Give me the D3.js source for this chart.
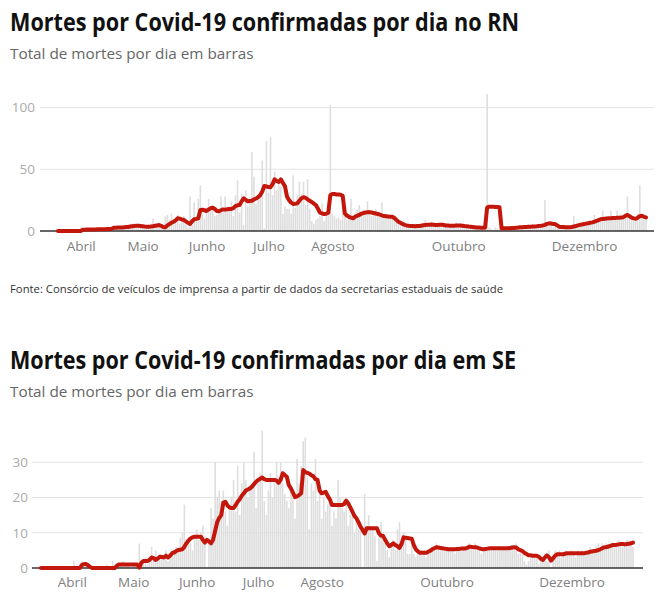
<!DOCTYPE html>
<html><head><meta charset="utf-8">
<script src="https://cdn.jsdelivr.net/npm/d3@7"></script>
<style>
body{margin:0;background:#fff;}
svg{display:block;font-family:"Open Sans",sans-serif;}
</style></head>
<body>
<svg id="c" width="664" height="602"></svg>
<script>
// ---------- DATA ----------
const rnStart = "2020-03-21";
const seStart = "2020-03-17";
const monthTicks = ["2020-04-01","2020-05-01","2020-06-01","2020-07-01","2020-08-01","2020-10-01","2020-12-01"];
const monthLabels = ["Abril","Maio","Junho","Julho","Agosto","Outubro","Dezembro"];
const rnYTicks = [0,50,100];
const seYTicks = [0,10,20,30];

const rnBars = [
0,0,0,0,0,0,0,1,0,0,
0,1,2,1,1,0,2,1,1,2,
1,2,1,2,2,1,3,3,2,3,
4,2,3,5,3,4,6,5,3,4,
3,5,2,4,3,6,10,4,5,6,
3,2,12,13,9,14,7,11,13,6,
9,12,5,3,28,5,23,12,26,37,
14,10,16,26,18,21,12,13,18,28,
15,28,16,20,24,12,29,41,15,30,
5,33,20,26,64,44,22,29,30,57,
2,73,31,76,29,48,33,40,36,14,
20,18,18,14,45,19,29,40,30,40,
21,42,18,8,6,9,10,12,22,8,
13,23,102,14,12,10,11,9,29,12,
9,11,26,13,15,17,21,13,17,15,
24,16,12,15,18,14,11,23,10,12,
13,10,11,9,12,8,6,5,4,3,
5,4,3,6,4,3,5,4,9,6,
5,7,4,6,5,4,7,5,6,3,
4,3,5,7,4,6,3,5,4,2,
3,2,4,3,2,3,2,3,111,3,
2,1,3,2,2,1,3,2,2,3,
2,4,3,2,4,3,3,4,5,3,
4,3,5,4,3,6,25,5,4,6,
3,5,2,3,4,3,2,3,4,3,
12,4,5,6,4,7,6,8,5,6,
13,9,8,11,16.5,9,12,10,16.5,11,
9,16.5,12,10,11,13,28,12,9,8,
10,14,37,12,9,10
];
const rnAvg = [
0,0,0,0,0,0,0,0,0,0,
0,0,1.1,1.1,1.2,1.2,1.3,1.3,1.3,1.4,
1.4,1.4,1.5,1.5,1.6,1.7,1.7,2.7,2.7,2.8,
2.8,2.9,3,3.2,3.3,3.6,3.9,4.1,4.3,4.2,
4,3.8,3.6,3.5,3.5,3.6,3.8,4.2,4.5,4.8,
4.2,3.3,3,4.5,5.6,6.7,7.5,8.6,10.3,10,
9.4,8.9,7.8,6.6,5.7,7.8,9.5,9.8,10.3,17,
17.2,16.8,16.2,17.5,18.4,18.9,17.8,16.2,16,16.8,
17.5,17.3,17.6,17.8,17.8,18.5,20.2,20.8,21,24,
26.5,25.3,24,24.3,24.5,25.6,26.3,27.5,29,32,
36.4,36,35.6,35.4,38,41.8,40.5,39.7,41.8,39,
36.4,27.8,25,23,21.9,22,22.4,24.5,26.5,27.3,
26.8,25.6,24.5,23.5,22.2,21,18,14.8,14.2,13.8,
14,14.8,29,30,30,29.5,29.5,29.3,28.5,14.3,
12.5,11.5,10.8,10.3,11.5,12.3,13,14,14.5,15,
15.2,15.3,15,14.6,14.2,13.8,13.2,12.6,12.1,12,
11.8,11.6,11.6,10.5,9,7.5,6.6,5.7,5,4.5,
4.2,4,4,3.9,4,4,4.3,4.6,4.8,5,
5.1,5.2,5,4.8,4.9,5,5,4.8,4.5,4.4,
4.3,4.2,4.3,4.4,4.5,4.5,4.3,4,3.8,3.6,
3.5,3.3,3.1,2.9,2.8,2.7,2.7,2.7,19,19.7,
19.7,19.6,19.5,19.4,19.2,2.2,2.2,2.2,2.2,2.2,
2.4,2.5,2.7,2.8,3,3,3.2,3.3,3.4,3.5,
3.6,3.7,3.8,4,4.2,4.5,5,5.8,6.2,6,
5.7,5.6,4.5,3.5,3.3,3.2,3,3,3,3.2,
3.6,4,4.5,5,5.3,5.6,6,6.3,6.7,7,
7.5,8.2,8.8,9.5,9.8,10,10.2,10.3,10.3,10.5,
10.6,10.7,10.8,11,11.2,12.3,13,12,10.8,10.2,
9.9,10.8,12,12.3,11.5,11
];
const seBars = [
0,0,0,0,0,0,0,0,0,0,
0,0,0,0,0,0,2,0,0,1,
2,1,1,0,0,0,0,0,0,0,
0,0,1,0,0,2,0,1,1,1,
2,1,1,1,0,1,1,1,7,2,
2,3,1,2,6,3,5,2,4,3,
3,5,2,4,5,4,6,5,8.5,10,
18,6,8,7,5,9,11,8,10,12,
9,0,8,17,14,30,20,22,19,22,
16,12,18,20,25,16,29,15,24,30,
25,20,22,24,33,17,24,27,39,19,
15,22,27,20,24,30,26,30,24,21,
19,17,22,20,14,31,24,29,36,37,
26,11,24,22,31,19,23,14,20,16,
18,19,12,16,14,25,20,17,16,18,
12,15,15,10,14,11,13,0,21,12,
15,12,11,9,2,10,13,8,7,5,
3,6,8,5,11,13,7,10,9,4,
4,7,4,3,5,4,5,5,3,4,
5,6,5,7,6,5,6,5,6,5,
5,6,4,5,6,5,6,5,6,7,
6,5,7,5,6,4,5,6,5,6,
5,6,5,5,6,5,6,5,5,6,
6,5,7,4,5,4,2,1,2,3,
4,3,3,1,2,3,4,2,5,0,
3,5,4,5,3,4,5,4,4,5,
4,3,5,4,5,4,5,4,6,5,
5,6,7,5,7,6,7,6,7,7,
6,7,8,7,6,7,8,7,7,6
];
const seAvg = [
0,0,0,0,0,0,0,0,0,0,
0,0,0,0,0,0,0,0,0,0,
0.9,1.1,1.1,0.8,0.3,0,0,0,0,0,
0,0,0,0,0,0,0,0.6,1,1,
1,1,1,1,1,1,1,1,0.1,1.5,
2,2,2,2.3,3,2.8,2.3,2.7,3.2,3.1,
3,3.5,3,3.5,4.2,4.4,4.8,5.1,5.2,5.3,
6,7,7.8,8.4,8.7,8.9,8.9,8.9,8.9,8,
7.2,8,7.5,7,8,10.5,13,14.2,15,18.5,
18.8,17.8,17.2,17,17,17.8,18.8,19.5,20.5,21.2,
22,22.3,22.6,23.1,23.8,24.5,25,25.3,25.7,25.2,
25,25,25,25,25,24.8,24.2,25,26.9,26.4,
25.9,23.5,22.6,21.4,20.1,20.3,20.7,21.2,27.8,27.2,
27,26.8,26.3,26,25.2,25,22,21.2,21.4,21.6,
20.4,19.5,17.9,17.9,17.9,17.9,17.9,17.9,18.2,19.1,
18.3,17.2,16,14.8,14.1,13,11.7,10.8,9.8,11.3,
11.3,11.3,11.3,11.3,11.3,9.8,9.2,9.1,8,7,
6.2,6.5,7,6.5,6.2,5.7,6.8,8.7,8.6,8.5,
8.4,8.3,6.5,5.3,4.7,4.3,4.3,4.3,4.3,4.6,
4.9,5.3,5.6,5.9,5.8,5.7,5.6,5.5,5.4,5.3,
5.3,5.3,5.3,5.4,5.4,5.5,5.5,5.5,5.7,6,
6,5.9,5.9,5.8,5.6,5.4,5.3,5.4,5.5,5.6,
5.6,5.6,5.6,5.6,5.6,5.6,5.6,5.6,5.6,5.7,
5.8,5.9,5.8,5.3,5.1,4.8,4.3,4,3.6,3.6,
3.5,3.5,3.5,3.2,2.6,2.3,3,3.6,3,2.1,
2.8,3.5,3.9,3.9,3.9,3.9,4.1,4.2,4.2,4.2,
4.2,4.2,4.2,4.2,4.2,4.2,4.3,4.4,4.6,4.7,
4.8,4.9,5.1,5.3,5.6,5.9,5.9,6.1,6.3,6.5,
6.5,6.6,6.7,6.8,6.8,6.7,6.8,6.9,7,7.2
];

// ---------- DRAW ----------
const svg = d3.select("#c");
const parse = d3.utcParse("%Y-%m-%d");
const RED = "#c4170c";

function texts(cfg){
  svg.append("text").attr("x",10).attr("y",cfg.titleY)
    .attr("font-size",25).attr("font-weight",700).attr("fill","#111")
    .attr("textLength",cfg.titleW).attr("lengthAdjust","spacingAndGlyphs")
    .text(cfg.title);
  svg.append("text").attr("x",10).attr("y",cfg.subY)
    .attr("font-size",15.3).attr("fill","#666")
    .text("Total de mortes por dia em barras");
}

function chart(cfg){
  const start = parse(cfg.start);
  const dates = cfg.bars.map((d,i)=>d3.utcDay.offset(start,i));
  const x = d3.scaleUtc().domain([dates[0], dates[dates.length-1]]).range(cfg.xr);
  const y = d3.scaleLinear().domain([0, cfg.yTicks[cfg.yTicks.length-1]]).range(cfg.yr);
  const g = svg.append("g");
  // grid
  g.selectAll(".grid").data(cfg.yTicks.filter(v=>v>0)).join("line")
    .attr("x1",cfg.gx[0]).attr("x2",cfg.gx[1])
    .attr("y1",d=>y(d)).attr("y2",d=>y(d))
    .attr("stroke","#e3e3e3").attr("stroke-width",1);
  // bars
  const bw = 1.6;
  g.selectAll(".bar").data(cfg.bars).join("rect")
    .attr("x",(d,i)=>x(dates[i])-bw/2).attr("width",bw)
    .attr("y",d=>y(d)).attr("height",d=>y(0)-y(d))
    .attr("fill","#dedede");
  // y axis labels
  const ya = g.append("g").attr("transform",`translate(${cfg.gx[0]},0)`)
    .call(d3.axisLeft(y).tickValues(cfg.yTicks).tickSize(0).tickPadding(cfg.yPad));
  ya.select(".domain").remove();
  ya.selectAll("text").attr("font-size",13.5).attr("fill","#aaa").attr("font-family","Open Sans");
  // x axis labels
  const xa = g.append("g").attr("transform",`translate(0,${y(0)})`)
    .call(d3.axisBottom(x).tickValues(monthTicks.map(parse)).tickFormat((d,i)=>monthLabels[i]).tickSize(0).tickPadding(cfg.xPad));
  xa.select(".domain").remove();
  xa.selectAll("text").attr("font-size",13.5).attr("fill","#808080").attr("font-family","Open Sans");
  // baseline
  g.append("line").attr("x1",cfg.gx[0]).attr("x2",cfg.gx[1])
    .attr("y1",y(0)).attr("y2",y(0)).attr("stroke","#333").attr("stroke-width",1.3);
  // avg line
  const line = d3.line().x((d,i)=>x(dates[i])).y(d=>y(d));
  g.append("path").datum(cfg.avg).attr("d",line)
    .attr("fill","none").attr("stroke",RED).attr("stroke-width",4)
    .attr("stroke-linejoin","round").attr("stroke-linecap","round");
}

texts({title:"Mortes por Covid-19 confirmadas por dia no RN", titleY:31, titleW:509, subY:59});
chart({start:rnStart, bars:rnBars, avg:rnAvg, yTicks:rnYTicks,
  xr:[58,646], yr:[231,107.5], gx:[40,654], yPad:5, xPad:10.5});

svg.append("text").attr("x",10).attr("y",293).attr("font-size",11).attr("fill","#333")
  .attr("textLength",493).attr("lengthAdjust","spacingAndGlyphs")
  .text("Fonte: Consórcio de veículos de imprensa a partir de dados da secretarias estaduais de saúde");

texts({title:"Mortes por Covid-19 confirmadas por dia em SE", titleY:369, titleW:506, subY:397});
chart({start:seStart, bars:seBars, avg:seAvg, yTicks:seYTicks,
  xr:[41,633], yr:[568,462.3], gx:[32,643], yPad:4, xPad:9.5});
</script>
</body></html>
